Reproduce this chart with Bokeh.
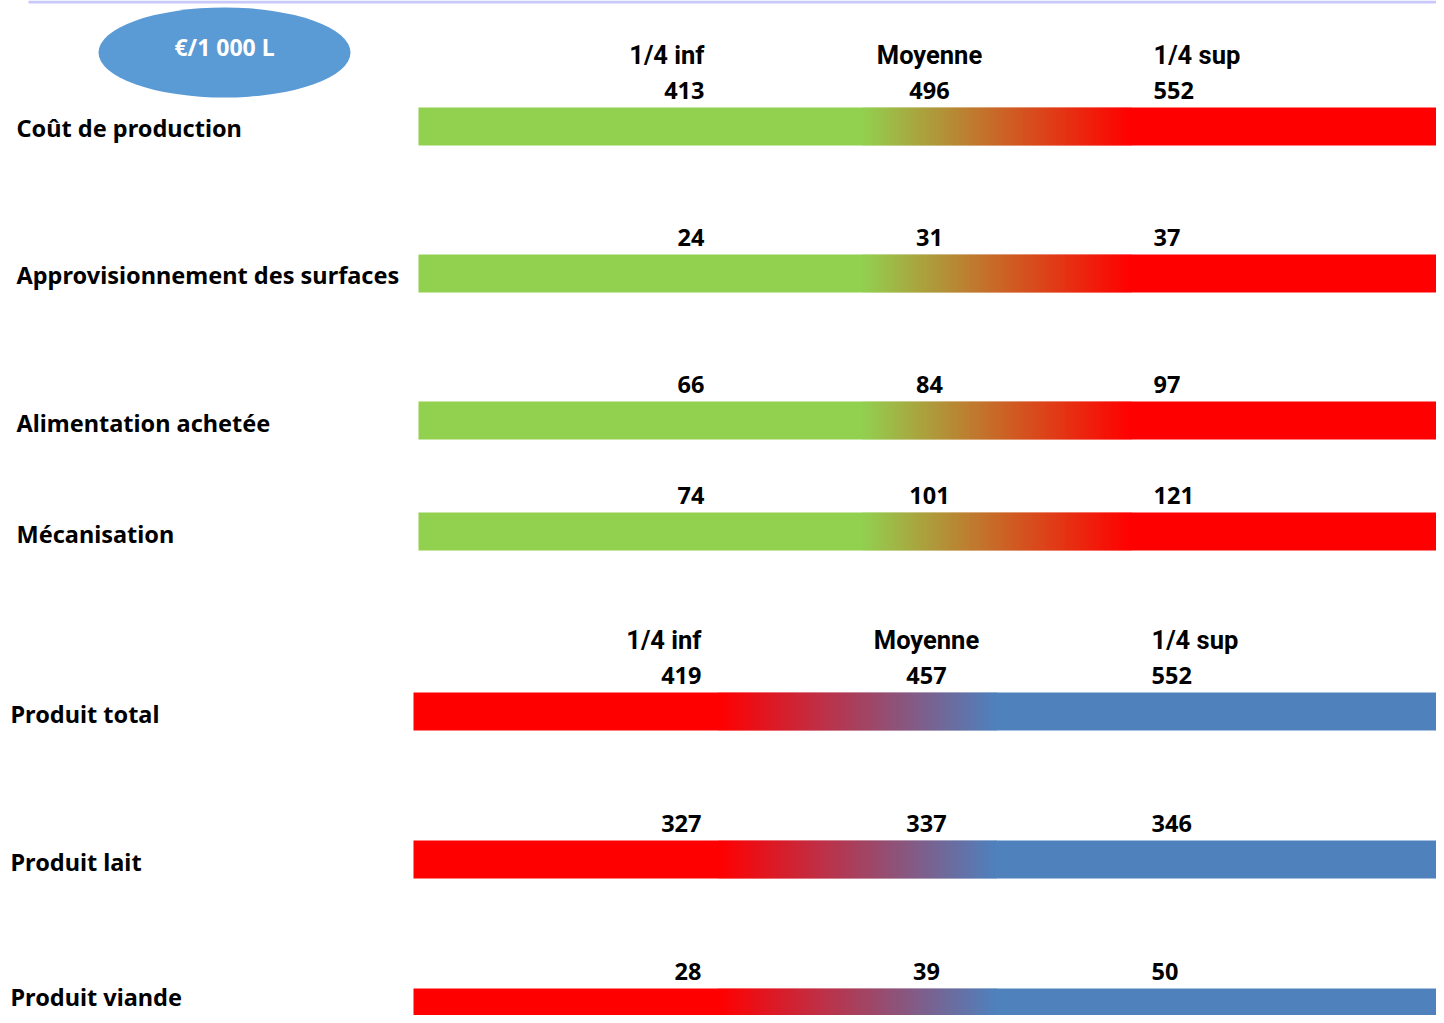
from bokeh.plotting import figure
from bokeh.models import Range1d, ColumnDataSource
from bokeh.core.properties import value
from bokeh.embed import file_html
from bokeh.resources import INLINE

# ---------------- data ----------------
unit_label = "€/1 000 L"
headers = ["1/4 inf", "Moyenne", "1/4 sup"]

cost_labels = ["Coût de production", "Approvisionnement des surfaces",
               "Alimentation achetée", "Mécanisation"]
cost_q1 = [413, 24, 66, 74]
cost_mean = [496, 31, 84, 101]
cost_q3 = [552, 37, 97, 121]

prod_labels = ["Produit total", "Produit lait", "Produit viande"]
prod_q1 = [419, 327, 28]
prod_mean = [457, 337, 39]
prod_q3 = [552, 346, 50]

# ---------------- layout / style ----------------
W, H = 1436, 1015
GREEN = (146, 208, 80)
RED = (255, 0, 0)
BLUE = (79, 129, 189)
LABEL_FONT = "'Noto Sans', sans-serif"
HEAD_FONT = "'Liberation Sans Narrow', 'Roboto', sans-serif"

p = figure(width=W, height=H, output_backend="svg", toolbar_location=None,
           x_range=Range1d(0, W), y_range=Range1d(H, 0), min_border=0)
p.axis.visible = False
p.grid.visible = False
p.outline_line_color = None
p.background_fill_color = "white"
p.border_fill_color = "white"

# thin lavender line at the top
p.quad(left=28, right=W, top=0, bottom=3, fill_color="#C8C8FA", line_color=None)

# unit ellipse
p.ellipse(x=224, y=52, width=252, height=90, fill_color="#5B9BD5", line_color=None)
p.text(x=[224], y=[46], text=[unit_label], text_color="white", text_font=value(LABEL_FONT),
       text_font_style="bold", text_font_size="23px", text_align="center", text_baseline="middle")


def hexc(c):
    return "#%02x%02x%02x" % tuple(int(round(v)) for v in c)


def gradient_bar(x0, x1, top, bottom, c0, c1, g0, g1, step=2):
    lefts, rights, cols = [x0], [g0 + 1], [hexc(c0)]
    x = g0
    while x < g1:
        t = (x + step / 2 - g0) / (g1 - g0)
        cols.append(hexc([a + (b - a) * t for a, b in zip(c0, c1)]))
        lefts.append(x)
        rights.append(min(x + step + 1, g1 + 1))
        x += step
    lefts.append(g1); rights.append(x1); cols.append(hexc(c1))
    src = ColumnDataSource(dict(left=lefts, right=rights, color=cols))
    p.quad(left="left", right="right", top=top, bottom=bottom, fill_color="color",
           line_color=None, source=src)


def group(labels, q1, mean, q3, bar_tops, label_ys, label_x, bar_x0, c0, c1, g0, g1,
          col_right, col_center, col_left, header_row):
    for i, lab in enumerate(labels):
        top = bar_tops[i]
        gradient_bar(bar_x0, 1439, top, top + 38, c0, c1, g0, g1)
        p.text(x=[label_x], y=[label_ys[i]], text=[lab], text_font=value(LABEL_FONT),
               text_font_style="bold", text_font_size="23.5px", text_color="black",
               text_baseline="middle", text_align="left")
        vy = top - 17
        for xx, v, al in ((col_right, q1[i], "right"), (col_center, mean[i], "center"),
                          (col_left, q3[i], "left")):
            p.text(x=[xx], y=[vy], text=[str(v)], text_font=value(LABEL_FONT),
                   text_font_style="bold", text_font_size="23.5px", text_color="black",
                   text_baseline="middle", text_align=al)
        if i == header_row:
            hy = top - 53
            for xx, h, al in ((col_right, headers[0], "right"), (col_center, headers[1], "center"),
                              (col_left, headers[2], "left")):
                p.text(x=[xx], y=[hy], text=[h], text_font=value(HEAD_FONT),
                       text_font_style="bold", text_font_size="25.5px", text_color="black",
                       text_baseline="middle", text_align=al)


group(cost_labels, cost_q1, cost_mean, cost_q3, [107, 254, 401, 512], [127, 274, 422, 533],
      16, 418, GREEN, RED, 862, 1130, 704, 929, 1153, 0)
group(prod_labels, prod_q1, prod_mean, prod_q3, [692, 840, 988], [713, 861, 996],
      10, 413, RED, BLUE, 718, 995, 701, 926, 1151, 0)

open("out.html", "w").write(file_html(p, INLINE))
